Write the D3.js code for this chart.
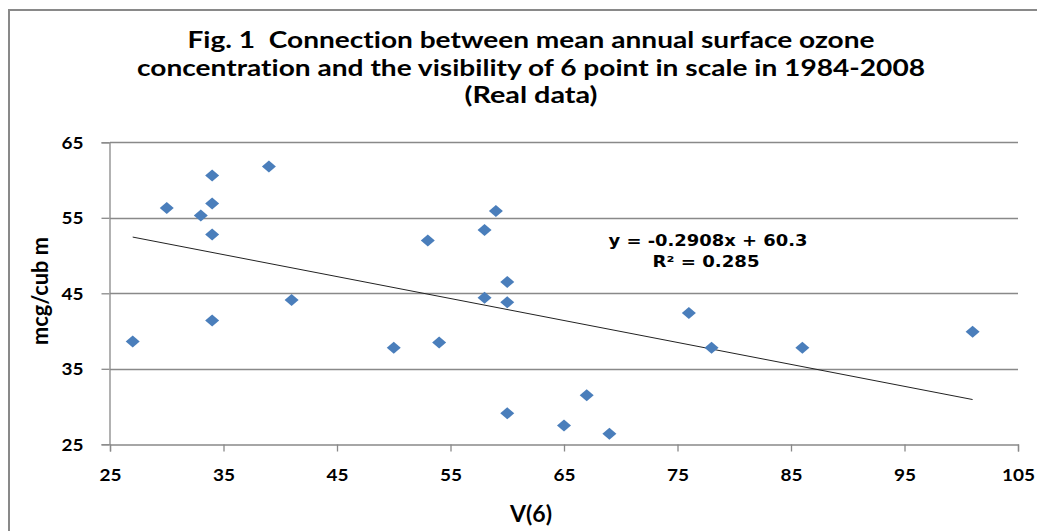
<!DOCTYPE html>
<html>
<head>
<meta charset="utf-8">
<script src="https://cdn.jsdelivr.net/npm/d3@7"></script>
<style>
  html, body { margin: 0; padding: 0; background: #fff; }
  svg { display: block; }
  text { font-variant-ligatures: none; white-space: pre; }
</style>
</head>
<body>
<div id="chart"></div>
<script>
// visibility of 6 point (x) vs mean annual surface ozone (y), 1984-2008
const visibility = [27, 30, 33, 34, 34, 34, 34, 39, 41, 50, 53, 54, 58, 58, 59, 60, 60, 60, 65, 67, 69, 76, 78, 86, 101]
const ozone = [38.6, 56.3, 55.3, 60.6, 56.9, 52.8, 41.4, 61.8, 44.1, 37.8, 52.0, 38.5, 53.4, 44.4, 55.9, 46.5, 43.8, 29.1, 27.5, 31.5, 26.4, 42.4, 37.8, 37.8, 39.9]
const xTicks = [25, 35, 45, 55, 65, 75, 85, 95, 105]
const yTicks = [25, 35, 45, 55, 65]
const trendSlope = -0.2908
const trendIntercept = 60.3
const titleLines = [
  'Fig. 1  Connection between mean annual surface ozone',
  'concentration and the visibility of 6 point in scale in 1984-2008',
  '(Real data)'
]
const equationLines = ['y = -0.2908x + 60.3', 'R\u00b2 = 0.285']

const width = 1037
const height = 531
const plot = { left: 110, right: 1018, top: 142.3, bottom: 444.3 }
const grey = '#898989'
const blue = '#4a7ebb'

const svg = d3.select('#chart')
  .append('svg')
  .attr('width', width)
  .attr('height', height)

// chart frame (only left and top edges are visible in the picture)
svg.append('rect')
  .attr('x', 9)
  .attr('y', 10)
  .attr('width', width + 20)
  .attr('height', height + 20)
  .style('fill', '#fff')
  .style('stroke', grey)
  .style('stroke-width', 2)

const x = d3.scaleLinear().domain([25, 105]).range([plot.left, plot.right])
const y = d3.scaleLinear().domain([25, 65]).range([plot.bottom, plot.top])

const fit = (sel, w) => sel.attr('textLength', w).attr('lengthAdjust', 'spacingAndGlyphs')

// title
const title = svg.append('g')
  .style('font-family', 'Lato, "Open Sans", sans-serif')
  .style('font-weight', 'bold')
  .style('font-size', '22px')
  .attr('text-anchor', 'middle')
const titleWidths = [687, 788, 133]
titleLines.forEach((t, i) => {
  title.append('text')
    .attr('x', 531)
    .attr('y', 48 + i * 27.5)
    .attr('xml:space', 'preserve')
    .text(t)
    .call(fit, titleWidths[i])
})

// horizontal gridlines
svg.append('g')
  .selectAll('line')
  .data(yTicks.filter(d => d > 25))
  .join('line')
  .attr('x1', plot.left)
  .attr('x2', plot.right)
  .attr('y1', d => Math.round(y(d)) + 0.5)
  .attr('y2', d => Math.round(y(d)) + 0.5)
  .style('stroke', grey)
  .style('stroke-width', 1.3)

// axes
const xAxis = svg.append('g')
  .attr('transform', 'translate(0,' + (Math.round(plot.bottom) + 0.5) + ')')
  .call(d3.axisBottom(x).tickValues(xTicks).tickSize(7).tickPadding(17).tickFormat(d3.format('d')))
const yAxis = svg.append('g')
  .attr('transform', 'translate(' + (plot.left - 0.5) + ',0)')
  .call(d3.axisLeft(y).tickValues(yTicks).tickSize(8).tickPadding(18).tickFormat(d3.format('d')))

;[xAxis, yAxis].forEach(a => {
  a.select('.domain').style('stroke', grey).style('stroke-width', 1.3)
  a.selectAll('.tick line').style('stroke', grey).style('stroke-width', 1.3)
  a.selectAll('.tick text')
    .style('font-family', 'Lato, "Open Sans", sans-serif')
    .style('font-weight', 'bold')
    .style('font-size', '17px')
    .style('fill', '#000')
    .each(function () {
      const t = d3.select(this)
      t.call(fit, t.text().length * 11)
    })
})
yAxis.selectAll('.tick text').attr('dy', '0.36em')

// axis titles
svg.append('text')
  .attr('x', 531)
  .attr('y', 522)
  .attr('text-anchor', 'middle')
  .style('font-family', 'Lato, "Open Sans", sans-serif')
  .style('font-weight', 'bold')
  .style('font-size', '22px')
  .text('V(6)')
  .call(fit, 42)

svg.append('text')
  .attr('transform', 'translate(48,291) rotate(-90)')
  .attr('text-anchor', 'middle')
  .style('font-family', 'Lato, "Open Sans", sans-serif')
  .style('font-weight', 'bold')
  .style('font-size', '22px')
  .text('mcg/cub m')
  .call(fit, 108)

// linear trend line
const xMin = d3.min(visibility)
const xMax = d3.max(visibility)
svg.append('line')
  .attr('x1', x(xMin))
  .attr('y1', y(trendSlope * xMin + trendIntercept))
  .attr('x2', x(xMax))
  .attr('y2', y(trendSlope * xMax + trendIntercept))
  .style('stroke', '#222')
  .style('stroke-width', 1)

// diamond markers
const points = visibility.map((v, i) => ({ v: v, o: ozone[i] }))
svg.append('g')
  .selectAll('path')
  .data(points)
  .join('path')
  .attr('transform', d => 'translate(' + x(d.v) + ',' + y(d.o) + ')')
  .attr('d', 'M0,-6L7,0L0,6L-7,0Z')
  .style('fill', blue)

// equation label
const eq = svg.append('g')
  .attr('text-anchor', 'middle')
  .style('font-family', '"DejaVu Sans", Verdana, sans-serif')
  .style('font-weight', 'bold')
  .style('font-size', '15px')
equationLines.forEach((t, i) => {
  eq.append('text')
    .attr('x', i === 0 ? 708 : 706)
    .attr('y', 246 + i * 21)
    .text(t)
    .call(fit, i === 0 ? 199 : 107)
})
</script>
</body>
</html>
